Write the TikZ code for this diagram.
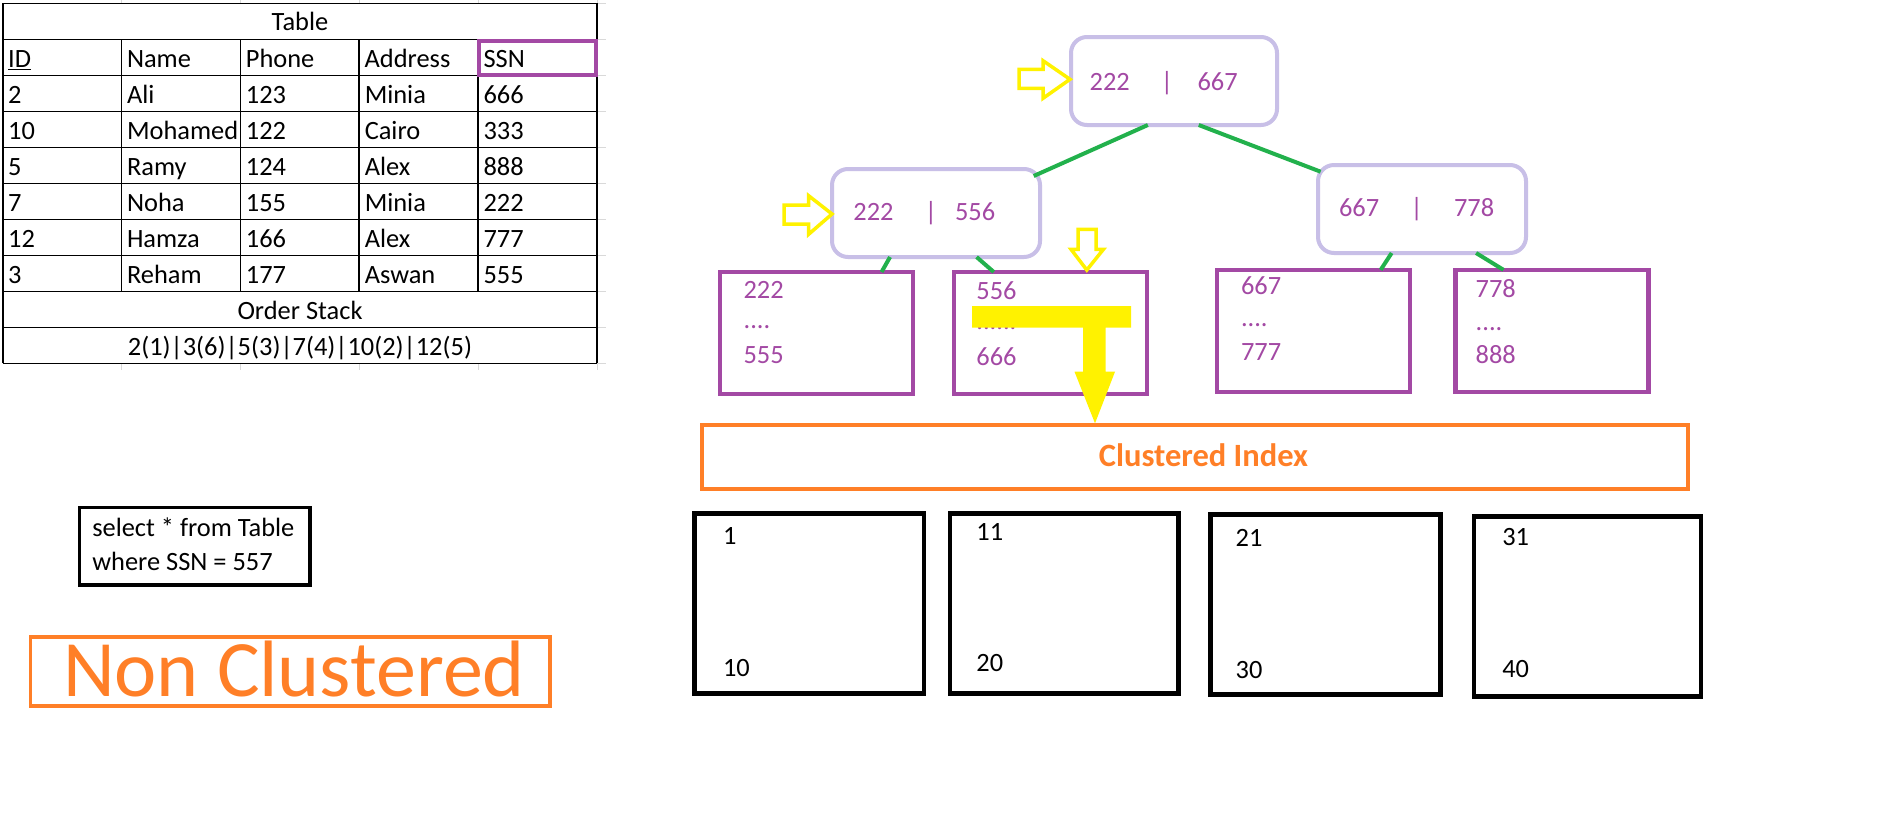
\documentclass[tikz,border=0pt]{standalone}
\usepackage{fontspec}
\setmainfont{Carlito}
\usetikzlibrary{calc}
\definecolor{lav}{HTML}{C8BFE7}
\definecolor{grn}{HTML}{22B14C}
\definecolor{prp}{HTML}{A349A4}
\definecolor{ylw}{HTML}{FFF200}
\definecolor{org}{HTML}{FF7F27}
\definecolor{faint}{HTML}{D9D9D9}
\begin{document}
\begin{tikzpicture}[x=0.5pt,y=-0.5pt,
  txt/.style={inner sep=0pt, outer sep=0pt, font=\fontsize{13.2}{15.8}\selectfont},
  tcell/.style={txt, anchor=base west},
  ptext/.style={txt, text=prp, anchor=base west},
  pbar/.style={txt, text=prp, anchor=base},
  grid/.style={line width=0.8pt, black},
  tnode/.style={draw=lav, line width=2pt, rounded corners=8pt, inner sep=0pt, outer sep=0pt, minimum height=44pt, minimum width=104pt},
  leaf/.style={draw=prp, line width=2.25pt, inner sep=0pt, outer sep=0pt, minimum width=96.5pt, minimum height=61pt},
  pagebox/.style={draw=black, line width=2.25pt, inner sep=0pt, outer sep=0pt, minimum width=114.5pt, minimum height=90pt},
  treeedge/.style={draw=grn, line width=2pt},
  hollow/.style={draw=ylw, line width=1.75pt, line join=miter},
]
\fill[white] (0,0) rectangle (1899,820);
\useasboundingbox (0,0) rectangle (1899,820);

% ---------- Table ----------
\foreach \x in {121.4,240.4,359.1,478.1,597.2}
  \draw[faint, line width=0.5pt] (\x,0) -- (\x,3.3);
\foreach \x in {121.4,240.4,359.1,478.1,597.2}
  \draw[faint, line width=0.5pt] (\x,363.3) -- (\x,370);
\foreach \k in {0,...,10}
  \draw[faint, line width=0.5pt] (597.2,{3.3+36*\k}) -- (606,{3.3+36*\k});
\foreach \k in {0,...,10}
  \draw[grid] (2.7,{3.3+36*\k}) -- (597.2,{3.3+36*\k});
\draw[grid] (2.7,3.3) -- (2.7,363.3);
\draw[grid] (597.2,3.3) -- (597.2,363.3);
\foreach \x in {121.4,240.4,359.1,478.1}
  \draw[grid] (\x,39.3) -- (\x,291.3);

\node[txt, anchor=base] (ttitle) at (300,30.7) {Table};
\node[tcell] (h1) at (8.2,67) {\underline{ID}};
\node[tcell] (h2) at (127,67) {Name};
\node[tcell] (h3) at (245.9,67) {Phone};
\node[tcell] (h4) at (364.7,67) {Address};
\node[tcell] (h5) at (483.6,67) {SSN};
\foreach \row [count=\i] in {{2,Ali,123,Minia,666},{10,Mohamed,122,Cairo,333},{5,Ramy,124,Alex,888},{7,Noha,155,Minia,222},{12,Hamza,166,Alex,777},{3,Reham,177,Aswan,555}} {
  \foreach \cell [count=\j] in \row {
    \node[tcell] (c\i-\j) at ({8.2+(\j-1)*118.85},{67+\i*36}) {\cell};
  }
}
\node[txt, anchor=base] (ostack) at (300,319) {Order Stack};
\node[txt, anchor=base] (ostackv) at (300,355) {2(1)|3(6)|5(3)|7(4)|10(2)|12(5)};
\node[draw=prp, line width=2pt, inner sep=0pt, outer sep=0pt, minimum width=58.5pt, minimum height=16.7pt] (ssnbox) at (537.5,58) {};

% ---------- Query and label ----------
\node[draw=black, line width=1.75pt, inner sep=0pt, outer sep=0pt, minimum width=115.35pt, minimum height=38.85pt] (sel) at (194.65,546.15) {};
\node[tcell] (sel1) at (92.3,536.7) {select * from Table};
\node[tcell] (sel2) at (92.3,570) {where SSN = 557};

\node[draw=org, line width=1.75pt, inner sep=0pt, outer sep=0pt, minimum width=259.85pt, minimum height=34.5pt] (nc) at (290.15,671.5) {};
\node[txt, font=\fontsize{40}{48}\selectfont, text=org, anchor=base] (nct) at (294,696) {Non Clustered};

% ---------- Tree ----------
\node[tnode, minimum width=103pt] (root) at (1174,81) {};
\node[ptext] (r1) at (1089.7,90) {222};
\node[pbar] (r2) at (1167,90) {|};
\node[ptext] (r3) at (1197.5,90) {667};

\node[tnode] (ml) at (936,213) {};
\node[ptext] (m1) at (853.4,220) {222};
\node[pbar] (m2) at (931,220) {|};
\node[ptext] (m3) at (955,220) {556};

\node[tnode] (mr) at (1422,209) {};
\node[ptext] (n1) at (1339,216.6) {667};
\node[pbar] (n2) at (1416.7,216.6) {|};
\node[ptext] (n3) at (1454,216.6) {778};

\node[leaf] (l1) at (816.4,333) {};
\node[leaf] (l2) at (1050.6,333) {};
\node[leaf] (l3) at (1313.5,330.85) {};
\node[leaf] (l4) at (1551.75,330.85) {};

\node[ptext] (l1a) at (743.6,298.3) {222};
\node[ptext] (l1b) at (743.6,328) {....};
\node[ptext] (l1c) at (743.6,363.3) {555};
\node[ptext] (l2a) at (976.4,299) {556};
\node[ptext] (l2b) at (976.4,329) {......};
\node[ptext] (l2c) at (976.4,365) {666};
\node[ptext] (l3a) at (1241,294.3) {667};
\node[ptext] (l3b) at (1241,326) {....};
\node[ptext] (l3c) at (1241,360) {777};
\node[ptext] (l4a) at (1475.7,297.3) {778};
\node[ptext] (l4b) at (1475.7,330) {....};
\node[ptext] (l4c) at (1475.7,363.3) {888};

\draw[treeedge] ($(root.south west)!0.373!(root.south east)$) -- ($(ml.north east)+(-6.3,7)$);
\draw[treeedge] ($(root.south west)!0.62!(root.south east)$) -- ($(mr.north west)+(2.6,6.7)$);
\draw[treeedge] ($(ml.south west)!0.279!(ml.south east)$) -- ($(l1.north west)!0.8375!(l1.north east)$);
\draw[treeedge] ($(ml.south west)!0.695!(ml.south east)$) -- ($(l2.north west)!0.2055!(l2.north east)$);
\draw[treeedge] ($(mr.south west)!0.354!(mr.south east)$) -- ($(l3.north west)!0.848!(l3.north east)$);
\draw[treeedge] ($(mr.south west)!0.76!(mr.south east)$) -- ($(l4.north west)!0.25!(l4.north east)$);

% ---------- Clustered index and pages ----------
\node[draw=org, line width=2pt, inner sep=0pt, outer sep=0pt, minimum width=492.95pt, minimum height=32.25pt] (ci) at (1195.35,456.75) {};
\node[txt, font=\fontsize{16.25}{19.5}\selectfont\bfseries, text=org, anchor=base] (cit) at (1203.5,466.7) {Clustered Index};

\node[pagebox, minimum width=114.7pt] (b1) at (809.3,603.3) {};
\node[pagebox, minimum width=114.35pt] (b2) at (1064.35,603.3) {};
\node[pagebox, minimum width=115.05pt] (b3) at (1325.55,604.3) {};
\node[pagebox, minimum width=113.6pt] (b4) at (1587.4,606.35) {};
\node[tcell] (b1a) at (723,544.3) {1};
\node[tcell] (b1b) at (723,676.3) {10};
\node[tcell] (b2a) at (976.4,540) {11};
\node[tcell] (b2b) at (976.4,671.6) {20};
\node[tcell] (b3a) at (1235.7,546.6) {21};
\node[tcell] (b3b) at (1235.7,678.3) {30};
\node[tcell] (b4a) at (1502.3,545.6) {31};
\node[tcell] (b4b) at (1502.3,677.6) {40};

% ---------- Yellow arrows ----------
\draw[hollow] (1019,69.3) -- (1043,69.3) -- (1043,60.7) -- (1070,79.3) -- (1043,98.3) -- (1043,88.3) -- (1019,88.3) -- cycle;
\draw[hollow] (784,205) -- (808.6,205) -- (808.6,195.7) -- (832,214) -- (808.6,234.3) -- (808.6,224) -- (784,224) -- cycle;
\draw[hollow] (1078,229.3) -- (1096,229.3) -- (1096,249.3) -- (1103.4,249.3) -- (1086.8,270) -- (1071,249.3) -- (1078,249.3) -- cycle;
\fill[ylw] (972,306) -- (1131,306) -- (1131,327.7) -- (1105.5,327.7) -- (1105.5,371.7) -- (1115,371.7) -- (1095,423.3) -- (1074.5,371.7) -- (1083,371.7) -- (1083,327.7) -- (972,327.7) -- cycle;
\end{tikzpicture}
\end{document}
